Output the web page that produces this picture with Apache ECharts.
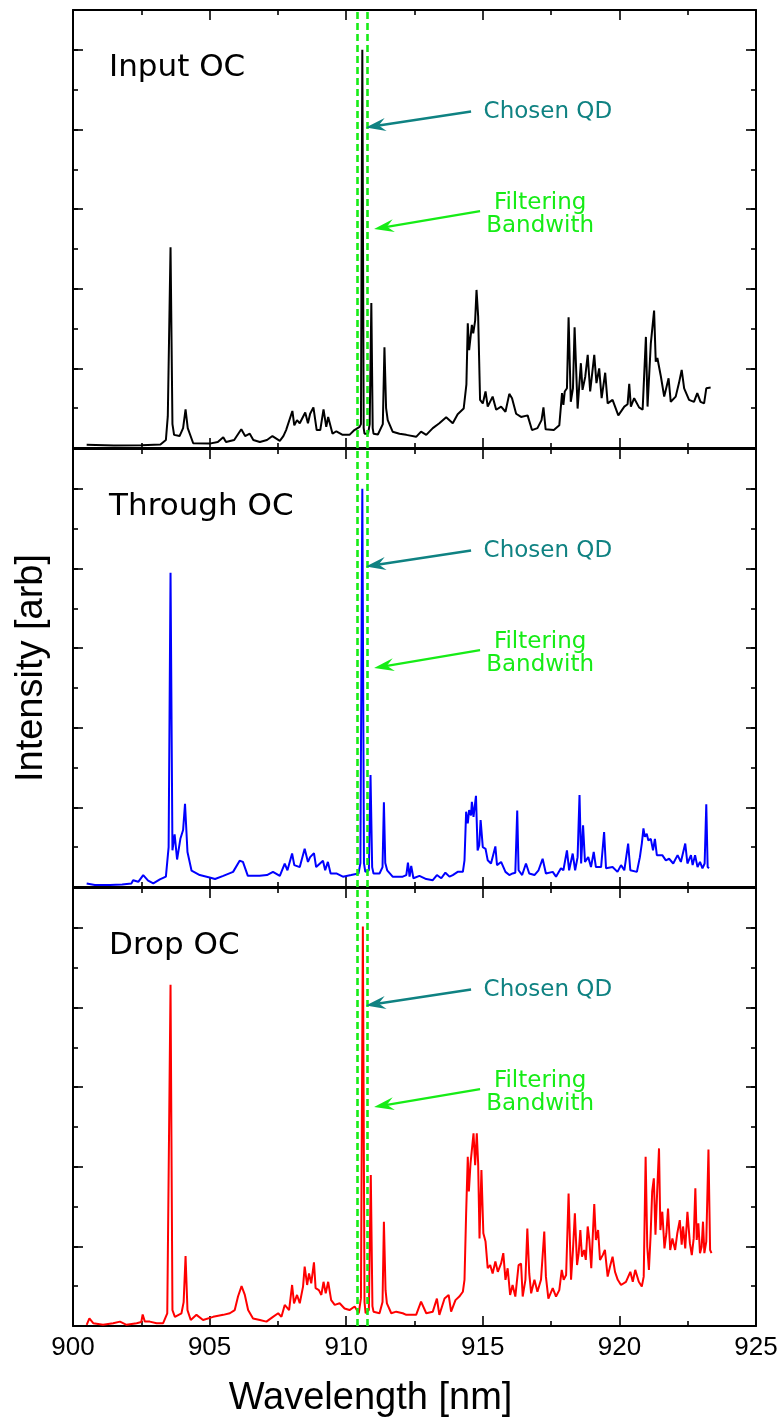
<!DOCTYPE html>
<html>
<head>
<meta charset="utf-8">
<script src="https://cdn.jsdelivr.net/npm/echarts@6/dist/echarts.min.js"></script>
<style>
  html, body { margin: 0; padding: 0; background: #fff; }
  #chart { width: 782px; height: 1420px; }
</style>
</head>
<body>
<div id="chart"></div>
<script>
// Photoluminescence spectra of the three ports (arbitrary intensity units)
const inputWl = [900.5,901.5,902.5,903.2,903.4,903.47,903.57,903.64,903.7,903.9,904.03,904.12,904.2,904.4,905.0,905.3,905.5,905.6,905.9,906.16,906.3,906.47,906.6,906.84,907.1,907.3,907.57,907.7,907.8,908.03,908.1,908.2,908.3,908.5,908.6,908.68,908.8,908.92,909.05,909.17,909.27,909.34,909.5,909.64,909.87,910.12,910.3,910.49,910.54,910.59,910.64,910.67,910.8,910.86,910.92,910.97,911.0,911.16,911.34,911.4,911.46,911.52,911.7,911.95,912.2,912.56,912.74,912.93,913.17,913.41,913.66,913.9,914.08,914.3,914.4,914.45,914.5,914.6,914.65,914.72,914.77,914.83,914.9,915.0,915.1,915.18,915.36,915.49,915.67,915.83,915.97,916.07,916.22,916.4,916.64,916.8,917.0,917.15,917.22,917.3,917.6,917.8,917.9,917.95,918.0,918.08,918.14,918.22,918.3,918.36,918.47,918.59,918.65,918.75,918.84,918.93,919.08,919.16,919.26,919.35,919.48,919.57,919.75,919.96,920.18,920.3,920.36,920.42,920.54,920.72,920.85,920.97,921.03,921.15,921.27,921.33,921.39,921.52,921.64,921.8,921.88,922.06,922.18,922.28,922.37,922.55,922.73,922.85,922.97,923.1,923.18,923.34];
const inputInt = [0.08,0.06,0.07,0.09,0.2,0.8,5.04,0.6,0.33,0.3,0.5,0.97,0.5,0.12,0.11,0.15,0.27,0.15,0.2,0.47,0.3,0.36,0.2,0.15,0.2,0.3,0.18,0.3,0.45,0.93,0.57,0.7,0.62,0.89,0.62,0.86,1.02,0.45,0.45,0.97,0.53,0.78,0.36,0.42,0.33,0.33,0.45,0.53,0.6,10.0,0.5,0.36,0.36,0.6,3.64,0.5,0.36,0.34,0.6,2.53,1.0,0.7,0.41,0.36,0.33,0.28,0.41,0.33,0.5,0.62,0.77,0.62,0.85,0.99,1.6,3.13,2.46,3.09,2.88,3.2,3.97,3.3,1.21,1.12,1.42,1.04,1.29,0.96,1.04,0.91,1.36,1.25,0.86,0.78,0.82,0.45,0.5,0.7,1.02,0.47,0.45,0.57,1.38,1.08,1.42,1.5,3.28,1.16,1.5,3.03,0.99,2.13,1.46,1.79,2.34,1.42,2.34,1.63,2.0,1.25,1.89,1.12,1.21,0.82,1.04,1.1,1.61,1.04,1.25,1.02,0.96,2.79,1.04,2.63,3.45,2.17,2.26,1.79,1.29,1.75,1.16,1.29,1.63,1.96,1.5,1.21,1.16,1.38,1.16,1.12,1.5,1.52];

const throughWl = [900.5,900.8,901.35,901.8,902.14,902.2,902.39,902.57,902.75,902.94,903.18,903.4,903.5,903.57,903.64,903.72,903.81,903.93,904.03,904.1,904.19,904.34,904.64,905.0,905.2,905.5,905.86,906.1,906.22,906.4,906.83,907.1,907.32,907.57,907.75,907.85,908.02,908.1,908.3,908.48,908.6,908.68,908.82,908.9,909.15,909.23,909.33,909.43,909.64,909.88,910.18,910.45,910.52,910.59,910.65,910.7,910.83,910.89,910.95,911.0,911.22,911.33,911.38,911.43,911.5,911.7,912.07,912.2,912.26,912.32,912.38,912.46,912.68,912.93,913.17,913.32,913.48,913.63,913.78,913.9,914.08,914.27,914.33,914.39,914.45,914.5,914.57,914.6,914.66,914.75,914.81,914.87,914.92,915.0,915.1,915.18,915.3,915.46,915.52,915.67,915.83,915.97,916.09,916.19,916.26,916.31,916.44,916.58,916.7,916.89,917.04,917.19,917.31,917.56,917.68,917.86,917.95,918.08,918.16,918.29,918.38,918.47,918.54,918.6,918.67,918.74,918.86,918.96,919.06,919.14,919.33,919.44,919.51,919.75,919.93,920.06,920.18,920.32,920.4,920.64,920.75,920.82,920.88,920.93,921.0,921.06,921.15,921.23,921.3,921.37,921.57,921.7,921.82,921.97,922.13,922.25,922.41,922.49,922.62,922.68,922.77,922.86,922.95,923.04,923.12,923.18,923.23,923.28];
const throughInt = [0.09,0.05,0.05,0.06,0.09,0.17,0.13,0.3,0.16,0.09,0.19,0.26,1.0,7.89,0.92,1.32,0.69,1.21,1.43,2.09,0.88,0.41,0.3,0.24,0.2,0.28,0.38,0.66,0.63,0.28,0.28,0.3,0.38,0.28,0.59,0.42,0.84,0.55,0.5,0.96,0.63,0.75,0.85,0.5,0.66,0.42,0.63,0.34,0.34,0.26,0.3,0.34,0.6,10.0,0.6,0.38,0.42,2.81,0.5,0.34,0.34,0.5,2.13,0.6,0.42,0.26,0.26,0.3,0.61,0.26,0.53,0.22,0.28,0.2,0.17,0.3,0.22,0.36,0.26,0.3,0.38,0.38,0.67,1.89,1.6,1.93,1.8,2.14,1.76,2.29,0.92,1.05,1.68,1.0,0.96,0.67,0.59,1.02,0.55,0.63,0.38,0.3,0.34,0.36,1.92,0.42,0.3,0.59,0.34,0.3,0.42,0.71,0.34,0.38,0.26,0.47,0.42,0.92,0.42,0.84,0.42,0.75,2.31,0.59,1.55,0.63,0.75,0.5,0.88,0.5,0.5,1.38,0.47,0.5,0.38,0.55,0.42,1.09,0.42,0.38,0.75,1.09,1.47,1.26,1.34,1.17,1.21,0.92,1.21,0.8,0.8,0.67,0.71,0.59,0.8,0.63,1.09,0.59,0.8,0.55,0.8,0.5,0.63,0.47,0.59,2.08,0.5,0.47];

const dropWl = [900.5,900.6,900.74,901.1,901.47,901.72,901.96,902.33,902.5,902.55,902.63,902.81,903.06,903.3,903.45,903.57,903.64,903.73,903.97,904.05,904.12,904.19,904.31,904.52,904.76,905.13,905.5,905.74,905.92,906.04,906.17,906.29,906.41,906.59,906.84,907.08,907.32,907.51,907.63,907.75,907.91,908.02,908.09,908.2,908.3,908.42,908.48,908.57,908.64,908.72,908.82,908.88,909.0,909.09,909.17,909.25,909.34,909.45,909.58,909.76,909.94,910.12,910.31,910.46,910.54,910.61,910.67,910.71,910.83,910.9,910.96,911.0,911.22,911.33,911.38,911.44,911.49,911.65,911.83,912.07,912.2,912.32,912.56,912.74,912.93,913.17,913.32,913.41,913.6,913.75,913.84,914.0,914.14,914.27,914.33,914.39,914.45,914.49,914.55,914.61,914.66,914.72,914.78,914.83,914.88,914.95,915.02,915.1,915.18,915.27,915.36,915.46,915.55,915.67,915.75,915.83,915.91,916.0,916.09,916.19,916.31,916.4,916.46,916.56,916.63,916.7,916.77,916.89,917.0,917.13,917.25,917.31,917.4,917.56,917.68,917.8,917.89,917.96,918.05,918.14,918.23,918.3,918.37,918.45,918.51,918.57,918.63,918.71,918.77,918.84,918.9,918.97,919.08,919.14,919.22,919.29,919.39,919.47,919.57,919.67,919.75,919.84,919.94,920.06,920.24,920.4,920.49,920.58,920.71,920.82,920.89,920.96,921.02,921.08,921.14,921.2,921.26,921.32,921.38,921.45,921.5,921.57,921.65,921.72,921.78,921.86,921.94,922.04,922.12,922.21,922.28,922.33,922.41,922.49,922.58,922.65,922.72,922.78,922.83,922.89,922.95,923.01,923.06,923.11,923.18,923.26,923.32,923.37];
const dropInt = [0.03,0.19,0.07,0.03,0.07,0.11,0.03,0.07,0.1,0.29,0.11,0.11,0.07,0.07,0.32,8.57,0.4,0.23,0.32,0.6,1.76,0.4,0.15,0.28,0.15,0.23,0.28,0.32,0.4,0.74,1.0,0.78,0.4,0.19,0.15,0.11,0.23,0.32,0.23,0.53,0.4,1.03,0.57,0.78,0.57,0.99,1.49,1.03,1.32,1.07,1.6,0.95,0.9,0.78,1.11,0.82,1.11,0.65,0.53,0.57,0.44,0.4,0.49,0.32,0.7,10.03,0.6,0.32,0.4,3.79,0.5,0.36,0.32,0.6,2.62,0.9,0.57,0.32,0.36,0.32,0.28,0.28,0.28,0.61,0.32,0.36,0.69,0.28,0.69,0.78,0.36,0.65,0.74,0.86,1.16,2.83,4.25,3.38,4.08,4.04,4.84,4.04,4.84,4.08,2.2,3.92,2.33,2.12,1.45,1.53,1.32,1.62,1.36,1.57,1.83,1.16,1.45,0.78,1.03,0.74,1.53,1.57,0.74,1.16,2.45,1.32,0.82,1.16,0.86,1.16,2.37,1.24,0.69,0.95,0.74,0.9,1.41,1.16,1.28,3.33,1.16,1.91,2.83,1.53,1.83,2.41,1.74,1.91,1.66,2.5,2.16,1.45,3.06,2.16,2.41,1.66,1.78,1.91,1.24,1.53,1.74,1.36,1.16,1.03,1.11,1.36,1.11,1.41,1.11,0.99,1.24,4.25,1.99,1.41,2.24,3.38,3.71,2.29,3.33,4.46,2.41,2.87,1.95,2.33,2.95,1.91,2.2,1.91,2.33,2.66,2.04,2.5,1.95,2.87,2.08,1.78,2.2,3.46,2.16,2.58,1.83,1.99,2.62,1.83,2.12,4.43,1.91,1.83];

const panelNames = ['Input OC', 'Through OC', 'Drop OC'];
const lineColors = ['#000000', '#0000ff', '#ff0000'];
const xTicks = [900, 905, 910, 915, 920, 925];

// Filter pass band edges and the selected dot line (nm)
const bandEdges = [910.42, 910.78];
const qdArrow = [[914.57, 8.45], [910.72, 8.05]];
const bandArrow = [[914.9, 5.95], [911.02, 5.5]];
const qdLabelAt = [915.03, 8.45];
const bandLabelAt = [917.1, 5.87];

const TEAL = '#0f8282';
const GREEN = '#16ec16';
const GRID_TOP = [10, 449, 888];
const GRID_H = 438;

const chart = echarts.init(document.getElementById('chart'), null, { renderer: 'canvas' });

const grids = GRID_TOP.map(t => ({ left: 73, right: 26, top: t, height: GRID_H }));

const axisFont = 'Liberation Sans, Arial, sans-serif';
const tickStyle = { color: '#000', width: 1.6 };
const xAxes = [];
const yAxes = [];
for (let i = 0; i < 3; i++) {
  const isLast = i === 2;
  ['bottom', 'top'].forEach(pos => {
    const main = pos === 'bottom';
    xAxes.push({
      type: 'value', gridIndex: i, position: pos,
      min: xTicks[0], max: xTicks[xTicks.length - 1], interval: 5,
      axisLine: { show: true, onZero: false, lineStyle: { color: '#000', width: 2 } },
      axisTick: { show: true, inside: true, length: 10, lineStyle: tickStyle },
      minorTick: { show: true, splitNumber: 2, length: 5, lineStyle: tickStyle },
      splitLine: { show: false },
      axisLabel: {
        show: main && isLast, margin: 9, color: '#000',
        fontFamily: axisFont, fontSize: 26
      },
      name: main && isLast ? 'Wavelength [nm]' : '',
      nameLocation: 'middle', nameGap: 54,
      nameTextStyle: { color: '#000', fontFamily: axisFont, fontSize: 38, padding: [0, 88, 0, 0] }
    });
  });
  // minor (every unit) and major (every two units) ticks on both sides
  ['left', 'right'].forEach(pos => {
    [1, 2].forEach(step => {
      const withLine = step === 1;
      yAxes.push({
        type: 'value', gridIndex: i, position: pos, min: 0, max: 11, interval: step,
        axisLine: { show: withLine, onZero: false, lineStyle: { color: '#000', width: 2 } },
        axisTick: { show: true, inside: true, length: step === 1 ? 5 : 10, lineStyle: tickStyle },
        splitLine: { show: false },
        axisLabel: { show: false },
        name: (i === 1 && pos === 'left' && step === 1) ? 'Intensity [arb]' : '',
        nameLocation: 'middle', nameGap: 22,
        nameTextStyle: { color: '#000', fontFamily: axisFont, fontSize: 38 }
      });
    });
  });
}

// Dashed edges of the filter band in every panel
function bandLines() {
  const dash = { color: GREEN, width: 2.6, type: [7, 4] };
  return {
    silent: true,
    symbol: ['none', 'none'],
    label: { show: false },
    data: [
      { xAxis: bandEdges[0], lineStyle: dash },
      { xAxis: bandEdges[1], lineStyle: dash }
    ]
  };
}

const spectra = [[inputWl, inputInt], [throughWl, throughInt], [dropWl, dropInt]];
const series = spectra.map(([wl, inten], i) => ({
  type: 'line',
  name: panelNames[i],
  xAxisIndex: i * 2,
  yAxisIndex: i * 4,
  data: wl.map((w, k) => [w, inten[k]]),
  showSymbol: false,
  symbol: 'none',
  lineStyle: { color: lineColors[i], width: 2 },
  itemStyle: { color: lineColors[i] },
  z: 3,
  markLine: bandLines()
}));

chart.setOption({
  animation: false,
  backgroundColor: '#fff',
  grid: grids,
  xAxis: xAxes,
  yAxis: yAxes,
  series: series
});

// Arrow from a label towards the band, built in pixel space from data coordinates
function arrow(seriesIndex, from, to, color) {
  const a = chart.convertToPixel({ seriesIndex }, from);
  const b = chart.convertToPixel({ seriesIndex }, to);
  const dx = b[0] - a[0], dy = b[1] - a[1];
  const len = Math.hypot(dx, dy);
  const ux = dx / len, uy = dy / len;
  const nx = -uy, ny = ux;
  const L = 20, W = 13, N = 13;
  const back = [b[0] - ux * L, b[1] - uy * L];
  const notch = [b[0] - ux * N, b[1] - uy * N];
  return [
    {
      type: 'line', silent: true, z: 50,
      shape: { x1: a[0], y1: a[1], x2: notch[0], y2: notch[1] },
      style: { stroke: color, lineWidth: 2.4 }
    },
    {
      type: 'polygon', silent: true, z: 51,
      shape: {
        points: [
          [b[0], b[1]],
          [back[0] + nx * W / 2, back[1] + ny * W / 2],
          notch,
          [back[0] - nx * W / 2, back[1] - ny * W / 2]
        ]
      },
      style: { fill: color }
    }
  ];
}

// Panel titles, arrows and annotation texts, placed through the axes' coordinate systems
const graphics = [];
const annFont = 'DejaVu Sans, Verdana, sans-serif';
for (let i = 0; i < 3; i++) {
  const corner = chart.convertToPixel({ seriesIndex: i }, [901.32, 9.55]);
  graphics.push({
    type: 'text', x: corner[0], y: corner[1], silent: true,
    style: { text: panelNames[i], fill: '#000', font: '31px ' + annFont, textVerticalAlign: 'middle' }
  });
  graphics.push(...arrow(i, qdArrow[0], qdArrow[1], TEAL));
  graphics.push(...arrow(i, bandArrow[0], bandArrow[1], GREEN));
  const qd = chart.convertToPixel({ seriesIndex: i }, qdLabelAt);
  graphics.push({
    type: 'text', x: qd[0], y: qd[1], silent: true,
    style: { text: 'Chosen QD', fill: TEAL, font: '23px ' + annFont, textVerticalAlign: 'middle' }
  });
  const bw = chart.convertToPixel({ seriesIndex: i }, bandLabelAt);
  graphics.push({
    type: 'text', x: bw[0], y: bw[1], silent: true,
    style: {
      text: 'Filtering\nBandwith', fill: GREEN, font: '23px ' + annFont,
      textAlign: 'center', textVerticalAlign: 'middle', lineHeight: 23
    }
  });
}
chart.setOption({ graphic: graphics });
</script>
</body>
</html>
